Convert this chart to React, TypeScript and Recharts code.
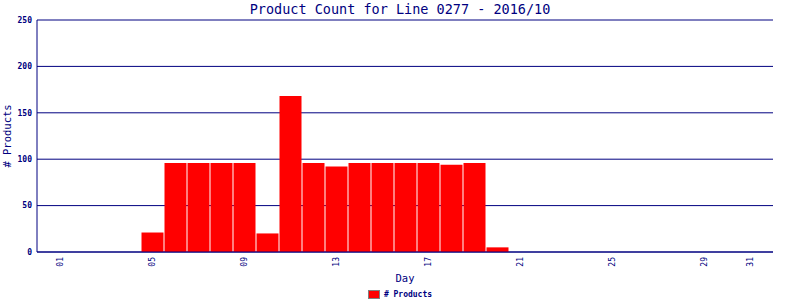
import React from "react";
import { BarChart, Bar, XAxis, YAxis, CartesianGrid, Legend, Label } from "recharts";

const NAVY = "#000080";
const MONO = '"DejaVu Sans Mono", monospace';

const days = [
  1, 2, 3, 4, 5, 6, 7, 8, 9, 10, 11, 12, 13, 14, 15, 16, 17, 18, 19, 20, 21, 22,
  23, 24, 25, 26, 27, 28, 29, 30, 31,
];
const productCounts = [
  0, 0, 0, 0, 21, 96, 96, 96, 96, 20, 168, 96, 92, 96, 96, 96, 96, 94, 96, 5, 0,
  0, 0, 0, 0, 0, 0, 0, 0, 0, 0,
];
const yTicks = [0, 50, 100, 150, 200, 250];
const xTicks = [1, 5, 9, 13, 17, 21, 25, 29, 31];

const data = days.map((day, i) => ({ day, products: productCounts[i] }));

function DayTick({ x, y, payload }: any) {
  return (
    <text
      x={x}
      y={y}
      transform={`rotate(-90, ${x}, ${y})`}
      textAnchor="end"
      dominantBaseline="central"
      fill={NAVY}
      fontFamily={MONO}
      fontSize={8}
    >
      {String(payload.value).padStart(2, "0")}
    </text>
  );
}

function LegendBox() {
  return (
    <div
      style={{
        display: "flex",
        justifyContent: "center",
        alignItems: "center",
        fontFamily: MONO,
        fontSize: 8,
        fontWeight: "bold",
        color: NAVY,
      }}
    >
      <span
        style={{
          display: "inline-block",
          width: 10,
          height: 7,
          background: "#ff0000",
          border: "1px solid #808080",
          marginRight: 4,
        }}
      />
      # Products
    </div>
  );
}

export default function App() {
  return (
    <div style={{ position: "relative", width: 800, height: 300, background: "#fff" }}>
      <style>{"body{margin:0}"}</style>
      <div
        style={{
          position: "absolute",
          top: 1,
          left: 0,
          width: 800,
          textAlign: "center",
          fontFamily: MONO,
          fontSize: 13.5,
          color: NAVY,
          zIndex: 1,
        }}
      >
        Product Count for Line 0277 - 2016/10
      </div>
      <BarChart
        width={800}
        height={300}
        data={data}
        margin={{ top: 20, right: 27, left: 0, bottom: 0 }}
      >
        <CartesianGrid vertical={false} stroke={NAVY} strokeWidth={1} />
        <XAxis
          dataKey="day"
          type="number"
          domain={[0, 32]}
          ticks={xTicks}
          interval={0}
          height={48}
          tickLine={false}
          tickSize={0}
          tickMargin={5}
          axisLine={{ stroke: NAVY }}
          tick={<DayTick />}
        >
          <Label
            content={({ viewBox }: any) => (
              <text
                x={viewBox.x + viewBox.width / 2}
                y={viewBox.y + 26}
                textAnchor="middle"
                dominantBaseline="central"
                fill={NAVY}
                fontFamily={MONO}
                fontSize={10.5}
              >
                Day
              </text>
            )}
          />
        </XAxis>
        <YAxis
          domain={[0, 250]}
          ticks={yTicks}
          interval={0}
          width={37}
          tickLine={false}
          tickSize={0}
          tickMargin={5}
          axisLine={{ stroke: NAVY }}
          tick={{ fill: NAVY, fontFamily: MONO, fontSize: 8, fontWeight: "bold" }}
        >
          <Label
            content={({ viewBox }: any) => {
              const cx = 7;
              const cy = viewBox.y + viewBox.height / 2;
              return (
                <text
                  x={cx}
                  y={cy}
                  transform={`rotate(-90, ${cx}, ${cy})`}
                  textAnchor="middle"
                  dominantBaseline="central"
                  fill={NAVY}
                  fontFamily={MONO}
                  fontSize={10.5}
                >
                  # Products
                </text>
              );
            }}
          />
        </YAxis>
        <YAxis
          yAxisId="frame"
          orientation="right"
          width={0}
          tick={false}
          tickLine={false}
          axisLine={{ stroke: NAVY }}
        />
        <Legend
          layout="horizontal"
          verticalAlign="middle"
          align="center"
          wrapperStyle={{ top: 290, left: 0, width: 800 }}
          content={() => <LegendBox />}
        />
        <Bar
          dataKey="products"
          name="# Products"
          fill="#ff0000"
          barSize={22}
          isAnimationActive={false}
        />
      </BarChart>
    </div>
  );
}
